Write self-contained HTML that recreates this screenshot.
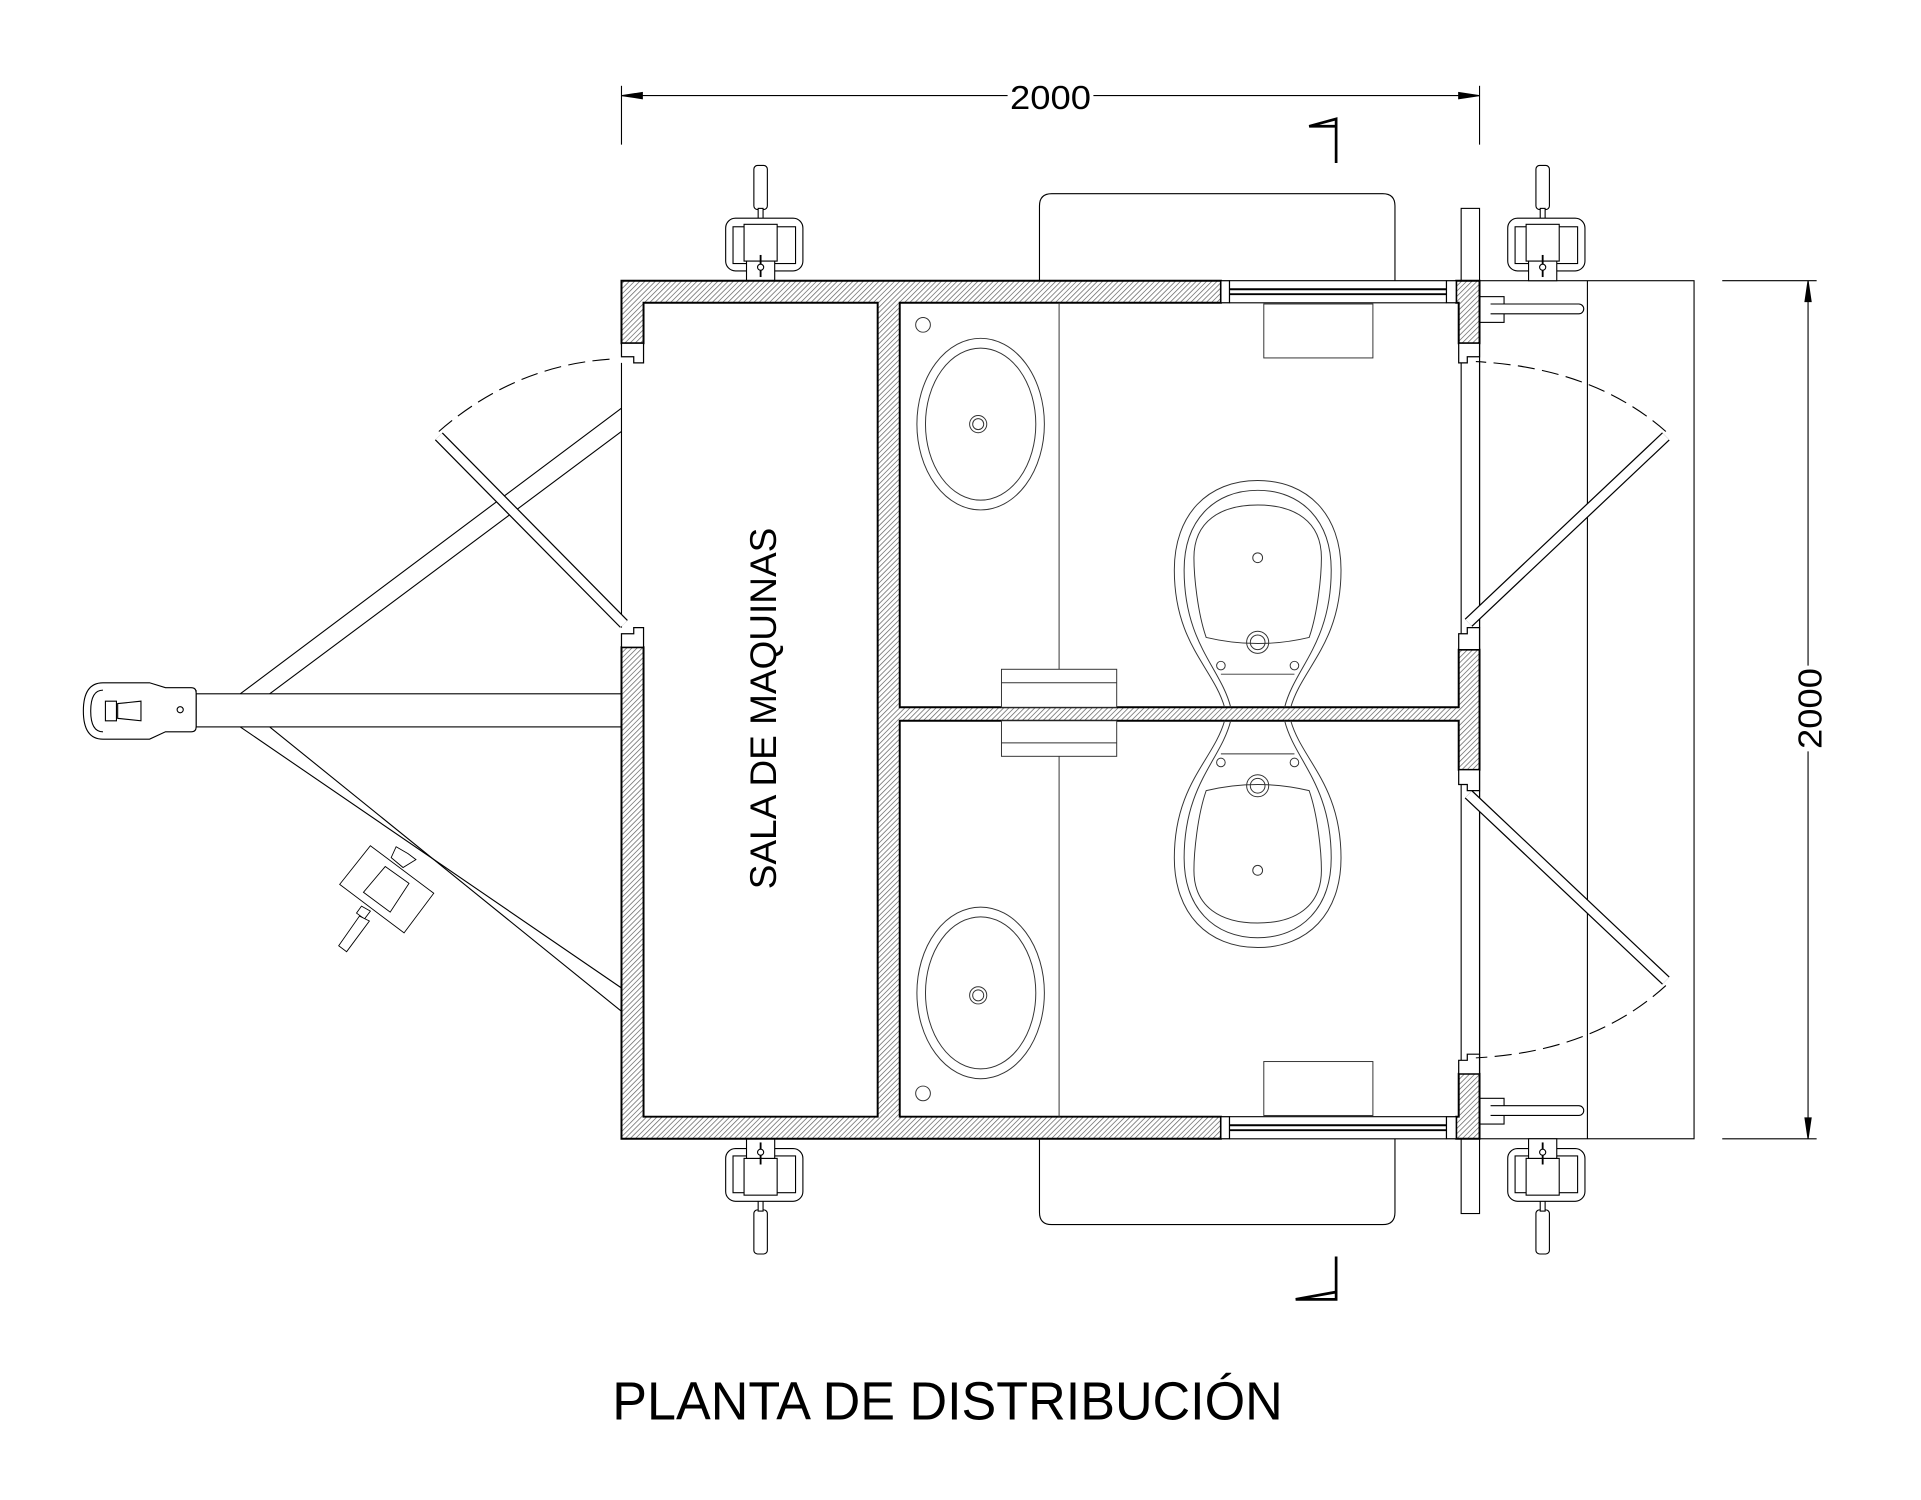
<!DOCTYPE html>
<html><head><meta charset="utf-8"><style>html,body{margin:0;padding:0;background:#fff}svg{display:block}</style></head>
<body>
<svg xmlns="http://www.w3.org/2000/svg" width="1921" height="1500" viewBox="0 0 1921 1500">
<defs>
<pattern id="h" patternUnits="userSpaceOnUse" width="3" height="3" patternTransform="rotate(45)">
<rect width="3" height="3" fill="#fff"/><line x1="0" y1="0" x2="0" y2="3" stroke="#666" stroke-width="1.2"/>
</pattern>
<g id="jack" fill="#fff" stroke="#000" stroke-width="0.9">
<rect x="615" y="135" width="11" height="36" rx="3"/>
<rect x="618.5" y="170" width="4" height="12"/>
<rect x="592" y="178" width="63" height="43" rx="8"/>
<rect x="598" y="185" width="51" height="30"/>
<rect x="607" y="183" width="27" height="30"/>
<rect x="609" y="213" width="23" height="16"/>
<line x1="620.5" y1="208" x2="620.5" y2="226" stroke-width="1.5"/>
<circle cx="620.5" cy="218" r="2.5"/>
</g>
</defs>
<rect width="1921" height="1500" fill="#fff"/>
<g transform="scale(1.2258)" fill="none" stroke="#000" stroke-width="0.9">
<!-- top dimension -->
<line x1="507" y1="70" x2="507" y2="118"/>
<line x1="1207" y1="70" x2="1207" y2="118"/>
<line x1="507" y1="78" x2="822" y2="78"/>
<line x1="892" y1="78" x2="1207" y2="78"/>
<polygon points="507,78 524,75.5 524,80.5" fill="#000"/>
<polygon points="1207,78 1190,75.5 1190,80.5" fill="#000"/>
<text x="857" y="89" font-family="Liberation Sans, sans-serif" font-size="27" text-anchor="middle" fill="#000" stroke="none" textLength="66" lengthAdjust="spacingAndGlyphs">2000</text>
<!-- right dimension -->
<line x1="1405" y1="229" x2="1482" y2="229"/>
<line x1="1405" y1="929" x2="1482" y2="929"/>
<line x1="1475" y1="229" x2="1475" y2="543"/>
<line x1="1475" y1="613" x2="1475" y2="929"/>
<polygon points="1475,229 1472.5,246 1477.5,246" fill="#000"/>
<polygon points="1475,929 1472.5,912 1477.5,912" fill="#000"/>
<text transform="translate(1486,578) rotate(-90)" font-family="Liberation Sans, sans-serif" font-size="27" text-anchor="middle" fill="#000" stroke="none" textLength="66" lengthAdjust="spacingAndGlyphs">2000</text>
<!-- section markers -->
<path d="M1090,133 L1090,97 L1068,103 L1090,103" stroke-width="2.2"/>
<path d="M1090,1025 L1090,1060 L1057,1060 L1090,1054" stroke-width="2.2"/>
<!-- big rounded rects -->
<path d="M848,229 L848,168 Q848,158 858,158 L1128,158 Q1138,158 1138,168 L1138,229"/>
<path d="M848,929 L848,989 Q848,999 858,999 L1128,999 Q1138,999 1138,989 L1138,929"/>
<!-- right strip -->
<rect x="1192" y="170" width="15" height="820"/>
<!-- right platform rect -->
<rect x="1207" y="229" width="175" height="700"/>
<line x1="1295" y1="229" x2="1295" y2="929"/>
<!-- towbar -->
<line x1="507" y1="333" x2="196" y2="566"/>
<line x1="507" y1="352" x2="220" y2="566"/>
<line x1="196" y1="593" x2="507" y2="806"/>
<line x1="220" y1="593" x2="507" y2="825"/>
<rect x="160" y="566" width="347" height="27" fill="#fff"/>
<path d="M160,563 L160,593 Q160,597 156,597 L135,597 L122,603 L84,603 Q68,603 68,580 Q68,557 84,557 L122,557 L135,561 L156,561 Q160,561 160,565" fill="#fff"/>
<path d="M84,597 Q74,597 74,580 Q74,563 84,563"/>
<path d="M96,574 L115,572 L115,588 L96,586 Z M86,572 L95,572 L95,588 L86,588 Z"/>
<circle cx="147" cy="579" r="2.5"/>
<!-- wheel jack on tow -->
<g transform="scale(0.8079)" fill="#fff">
<polygon points="343,893 374,854 438,902 408,942"/>
<polygon points="400,855 412,862 420,868 407,876 395,866"/>
<polygon points="367,901 389,875 413,892 394,921"/>
<polygon points="365,915 374,920 368,928 360,922"/>
<polygon points="342,955 363,925 373,930 350,961"/>
</g>
<!-- jacks -->
<use href="#jack"/>
<use href="#jack" transform="translate(638,0)"/>
<use href="#jack" transform="translate(0,1158) scale(1,-1)"/>
<use href="#jack" transform="translate(638,1158) scale(1,-1)"/>
<!-- grab bars right -->
<rect x="1207" y="242" width="20" height="21" fill="#fff"/>
<path d="M1216,248 L1288,248 A4,4 0 0 1 1288,256 L1216,256" fill="#fff"/>
<rect x="1207" y="896" width="20" height="21" fill="#fff"/>
<path d="M1216,902 L1288,902 A4,4 0 0 1 1288,910 L1216,910" fill="#fff"/>
<!-- walls hatched -->
<g fill="url(#h)" stroke="#000" stroke-width="1.6">
<path d="M507,229 L996,229 L996,247 L734,247 L734,577 L1190,577 L1190,530 L1207,530 L1207,628 L1190,628 L1190,588 L734,588 L734,911 L996,911 L996,929 L507,929 L507,528 L525,528 L525,911 L716,911 L716,247 L525,247 L525,280 L507,280 Z"/>
<path d="M1188,229 L1207,229 L1207,280 L1190,280 L1190,247 L1188,247 Z"/>
<path d="M1188,929 L1207,929 L1207,876 L1190,876 L1190,911 L1188,911 Z"/>
</g>
<!-- notches -->
<g fill="#fff" stroke="#000" stroke-width="1">
<path d="M507,280 L525,280 L525,296 L517,296 L517,291 L507,291 Z"/>
<path d="M507,528 L525,528 L525,512 L517,512 L517,517 L507,517 Z"/>
<path d="M1190,280 L1207,280 L1207,291 L1197,291 L1197,296 L1190,296 Z"/>
<path d="M1190,530 L1207,530 L1207,512 L1197,512 L1197,517 L1190,517 Z"/>
<path d="M1190,628 L1207,628 L1207,645 L1197,645 L1197,640 L1190,640 Z"/>
<path d="M1190,876 L1207,876 L1207,860 L1197,860 L1197,865 L1190,865 Z"/>
<rect x="996" y="229" width="7" height="18"/><rect x="1180" y="229" width="8" height="18"/>
<rect x="996" y="911" width="7" height="18"/><rect x="1180" y="911" width="8" height="18"/>
</g>
<g stroke-width="1.6">
<line x1="1003" y1="236" x2="1180" y2="236"/><line x1="1003" y1="240" x2="1180" y2="240"/>
<line x1="1003" y1="918" x2="1180" y2="918"/><line x1="1003" y1="922" x2="1180" y2="922"/>
</g>
<line x1="1003" y1="229" x2="1180" y2="229"/><line x1="1003" y1="247" x2="1180" y2="247"/>
<line x1="1003" y1="911" x2="1180" y2="911"/><line x1="1003" y1="929" x2="1180" y2="929"/>
<line x1="507" y1="296" x2="507" y2="512"/>
<line x1="1207" y1="296" x2="1207" y2="512"/>
<line x1="1207" y1="645" x2="1207" y2="860"/>
<!-- doors -->
<g stroke-linecap="butt">
<line x1="509" y1="509" x2="358" y2="356" stroke="#000" stroke-width="9"/>
<line x1="509" y1="509" x2="358" y2="356" stroke="#fff" stroke-width="7"/>
<line x1="1198" y1="508" x2="1359" y2="356" stroke="#000" stroke-width="9"/>
<line x1="1198" y1="508" x2="1359" y2="356" stroke="#fff" stroke-width="7"/>
<line x1="1198" y1="648" x2="1359" y2="800" stroke="#000" stroke-width="9"/>
<line x1="1198" y1="648" x2="1359" y2="800" stroke="#fff" stroke-width="7"/>
</g>
<g stroke-dasharray="14,6">
<path d="M358,352 Q420,298 498,293"/>
<path d="M1359,352 Q1300,300 1204,295"/>
<path d="M1359,804 Q1300,858 1204,863"/>
</g>
<!-- interior fixtures -->
<g stroke="#333" stroke-width="0.8">
<line x1="864" y1="247" x2="864" y2="577"/><line x1="864" y1="588" x2="864" y2="911"/>
<circle cx="753" cy="265" r="6"/><circle cx="753" cy="892" r="6"/>
<ellipse cx="800" cy="346" rx="52" ry="70"/><ellipse cx="800" cy="346" rx="45" ry="62"/>
<circle cx="798" cy="346" r="7"/><circle cx="798" cy="346" r="4.5"/>
<ellipse cx="800" cy="810" rx="52" ry="70"/><ellipse cx="800" cy="810" rx="45" ry="62"/>
<circle cx="798" cy="812" r="7"/><circle cx="798" cy="812" r="4.5"/>
<rect x="1031" y="248" width="89" height="44"/><rect x="1031" y="866" width="89" height="44"/>
<rect x="817" y="546" width="94" height="31" fill="#fff"/><line x1="817" y1="557" x2="911" y2="557"/>
<rect x="817" y="588" width="94" height="29" fill="#fff"/><line x1="817" y1="606" x2="911" y2="606"/>
<g id="toilet">
<path d="M999,577 C990,545 958,525 958,465 C958,420 985,392 1026,392 C1067,392 1094,420 1094,465 C1094,525 1062,545 1053,577"/>
<path d="M1004,577 C996,545 966,525 966,465 C966,425 990,400 1026,400 C1062,400 1086,425 1086,465 C1086,525 1056,545 1048,577"/>
<line x1="996" y1="550" x2="1056" y2="550"/>
<path d="M984,520 C977,500 974,470 974,455 C974,425 996,412 1026,412 C1056,412 1078,425 1078,455 C1078,470 1075,500 1068,520 Q1026,530 984,520 Z"/>
<circle cx="1026" cy="455" r="4"/><circle cx="1026" cy="524" r="9"/><circle cx="1026" cy="524" r="6"/>
<circle cx="996" cy="543" r="3.5"/><circle cx="1056" cy="543" r="3.5"/>
</g>
<use href="#toilet" transform="translate(0,1165) scale(1,-1)"/>
</g>
<!-- labels -->
<text transform="translate(633,578) rotate(-90)" font-family="Liberation Sans, sans-serif" font-size="30" text-anchor="middle" fill="#000" stroke="none" textLength="295" lengthAdjust="spacingAndGlyphs">SALA DE MAQUINAS</text>
<text x="773" y="1158" font-family="Liberation Sans, sans-serif" font-size="44" text-anchor="middle" fill="#000" stroke="none" textLength="547" lengthAdjust="spacingAndGlyphs">PLANTA DE DISTRIBUCIÓN</text>
</g>
</svg>
</body></html>
